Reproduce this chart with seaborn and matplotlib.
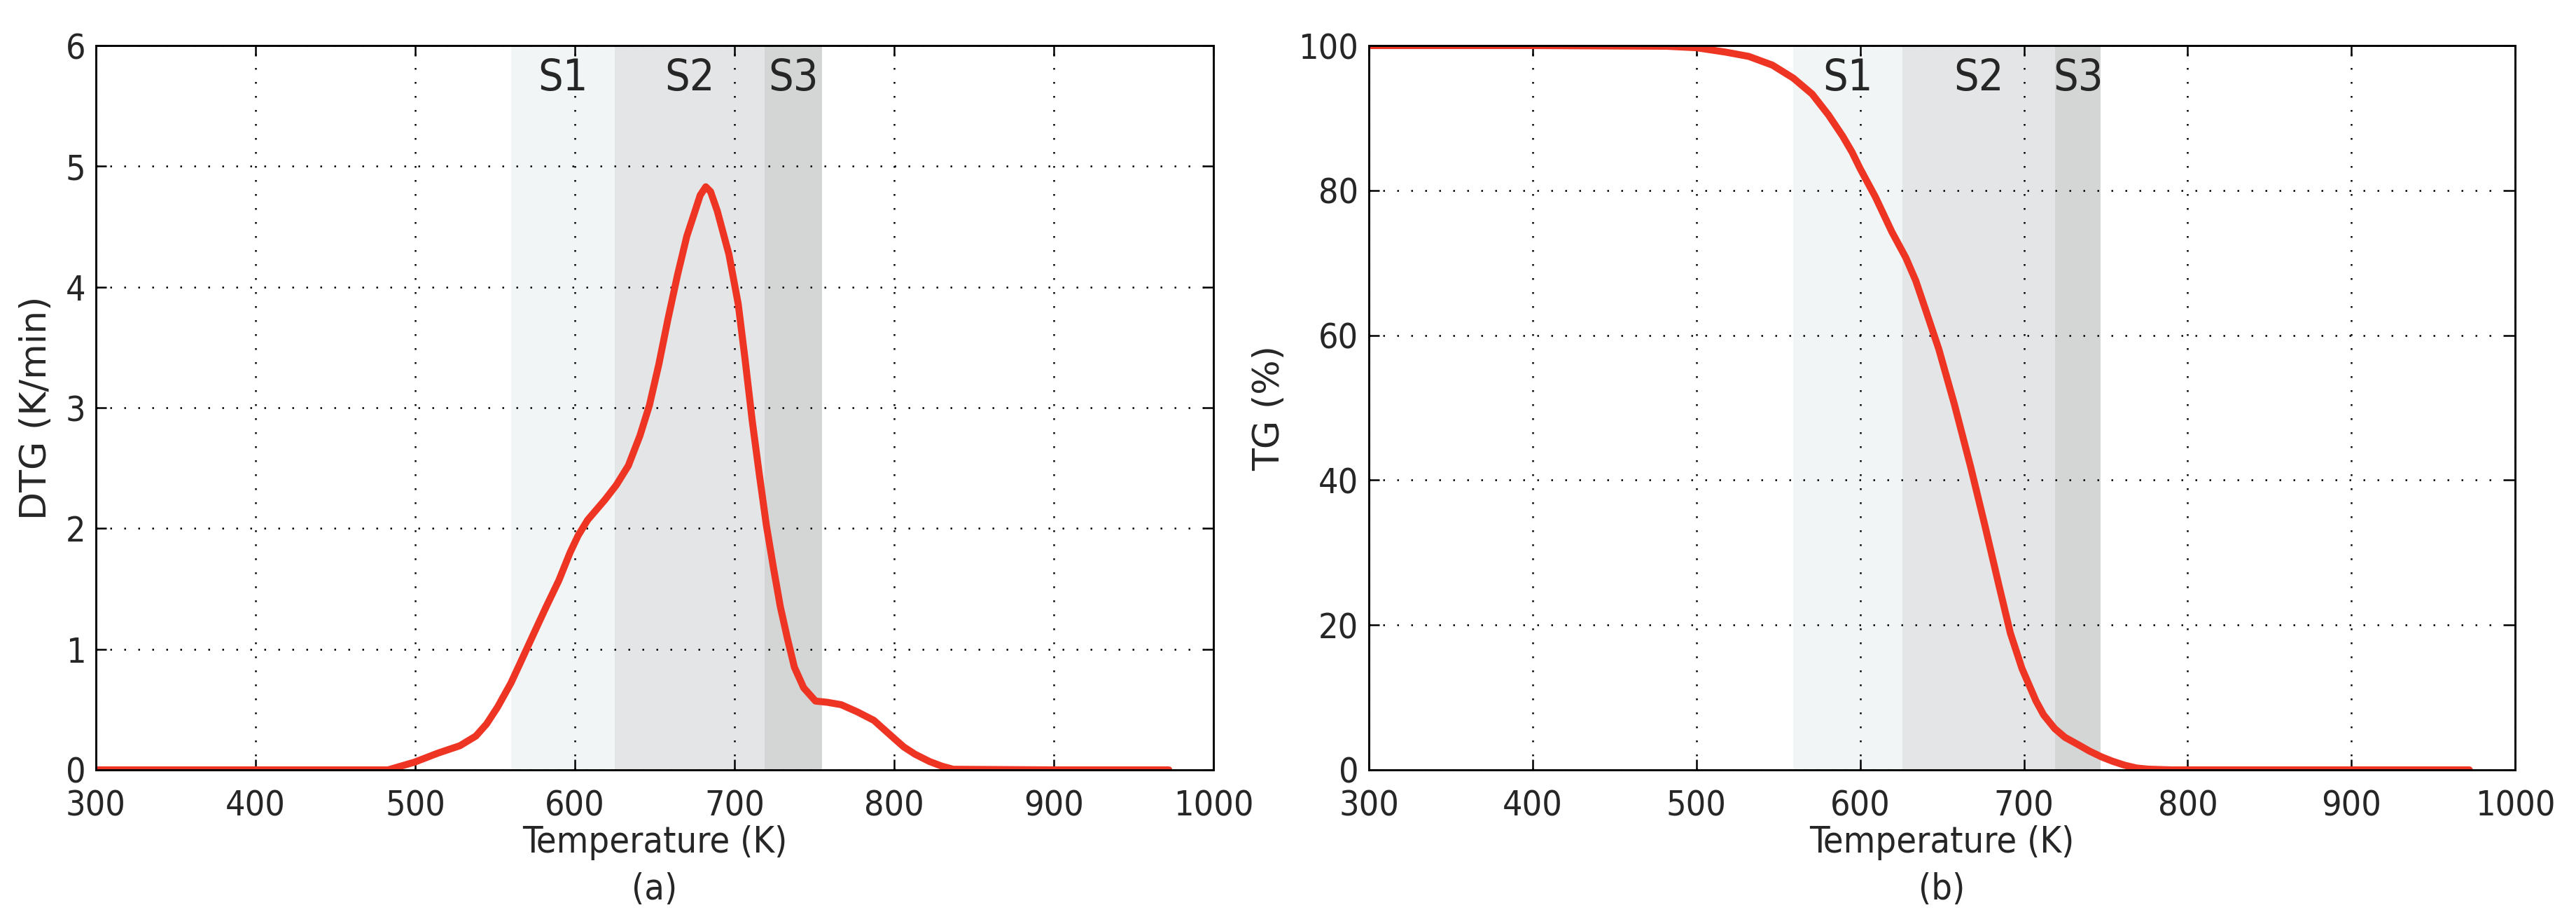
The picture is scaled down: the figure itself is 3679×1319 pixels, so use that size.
import pandas as pd
import seaborn as sns
import matplotlib
matplotlib.use("Agg")
import matplotlib.pyplot as plt
from matplotlib import font_manager

# DTG curve (K, K/min)
dtg_temp = [300, 400, 483, 499.6, 514.5, 528, 538, 544.7, 551.6, 560, 567, 575, 582, 590,
            597, 602, 608, 619, 626, 633.5, 640.8, 646.7, 652.6, 658.4, 664.3, 670.1, 675.3,
            678.5, 682, 685, 689.2, 696.5, 702.3, 706.7, 711.1, 715.5, 719.9, 724.3, 728.7,
            733.1, 737.5, 743.3, 750.7, 758, 766.8, 777, 787.3, 793.2, 800, 806, 813, 822,
            830, 837, 900, 972]
dtg_val = [0, 0, 0, 0.064, 0.14, 0.20, 0.28, 0.38, 0.52, 0.72, 0.92, 1.15, 1.35, 1.57,
           1.80, 1.94, 2.07, 2.24, 2.36, 2.52, 2.77, 3.02, 3.36, 3.74, 4.10, 4.42, 4.63,
           4.76, 4.83, 4.79, 4.63, 4.27, 3.86, 3.39, 2.89, 2.45, 2.03, 1.68, 1.35,
           1.09, 0.85, 0.68, 0.57, 0.56, 0.54, 0.48, 0.41, 0.34, 0.26, 0.19, 0.13, 0.07,
           0.03, 0.005, 0, 0]

# TG curve (K, %)
tg_temp = [300, 400, 482, 500, 517.7, 532, 546.4, 559.2, 570.7, 580.7, 589.3, 595, 600, 605,
           609.3, 619.3, 627.9, 634, 639.4, 648, 657.5, 667.5, 676, 684.6, 691.7, 698.8, 707.4,
           712, 718.8, 725, 733, 740, 747.3, 754, 761.6, 768.7, 775.8, 790, 900, 972]
tg_val = [100, 100, 99.9, 99.7, 99.1, 98.5, 97.3, 95.5, 93.3, 90.4, 87.5, 85.3, 83.0, 80.9,
          79.1, 74.3, 70.7, 67.5, 63.9, 58.1, 50.5, 41.8, 33.9, 25.6, 18.9, 14.0, 9.5,
          7.6, 5.7, 4.5, 3.5, 2.6, 1.8, 1.2, 0.64, 0.26, 0.1, 0, 0, 0]

# stage bands
stage_names = ["S1", "S2", "S3"]
stages_a = [(560, 625), (625, 719), (719, 755)]
stages_b = [(559, 626), (626, 719), (719, 747)]
stage_colors = ["#f2f5f5", "#e4e5e6", "#d4d5d5"]

sns.set_theme(style="white")

# look for a condensed sans face for the numbers and labels
narrow_file = None
for f in font_manager.fontManager.ttflist:
    nm = f.name.lower()
    st = str(f.stretch).lower()
    if ("condensed" in st or "condensed" in nm or "narrow" in nm) and "mono" not in nm \
            and "serif" not in nm.replace("sans", "") and f.style == "normal" \
            and f.weight in (400, "normal", "regular") and "semi" not in st \
            and "extra" not in st and "ultra" not in st:
        narrow_file = f.fname
        break

plt.rcParams["font.family"] = ["Liberation Sans", "DejaVu Sans"]
if narrow_file:
    fp_num = font_manager.FontProperties(fname=narrow_file, size=12)
    fp_lab = font_manager.FontProperties(fname=narrow_file, size=12.5)
    fp_stage = font_manager.FontProperties(fname=narrow_file, size=15)
else:
    fp_num = font_manager.FontProperties(family="Liberation Sans", size=11)
    fp_lab = font_manager.FontProperties(family="Liberation Sans", size=11.5)
    fp_stage = font_manager.FontProperties(family="Liberation Sans", size=13)

fig = plt.figure(figsize=(3679 / 300, 1319 / 300), dpi=300)
ax1 = fig.add_axes([0.0372, 0.1668, 0.4339, 0.7839])
ax2 = fig.add_axes([0.5314, 0.1668, 0.4450, 0.7839])

df_a = pd.DataFrame({"T": dtg_temp, "DTG": dtg_val})
df_b = pd.DataFrame({"T": tg_temp, "TG": tg_val})

panels = [
    (ax1, df_a, "DTG", stages_a, (0, 6), [0, 1, 2, 3, 4, 5, 6], "DTG (K/min)", "(a)"),
    (ax2, df_b, "TG", stages_b, (0, 100), [0, 20, 40, 60, 80, 100], "TG (%)", "(b)"),
]

for ax, df, col, stages, ylim, yticks, ylab, tag in panels:
    for (lo, hi), c in zip(stages, stage_colors):
        ax.axvspan(lo, hi, color=c, lw=0, zorder=0)
    sns.lineplot(data=df, x="T", y=col, ax=ax, color="#ee3524", lw=2.4, zorder=3)
    ax.set_xlim(300, 1000)
    ax.set_ylim(*ylim)
    ax.set_xticks(range(300, 1001, 100))
    ax.set_yticks(yticks)
    ax.grid(True, color="black", linestyle=(0, (1, 7)), linewidth=0.6)
    ax.set_axisbelow(False)
    for s in ax.spines.values():
        s.set_color("black")
        s.set_linewidth(0.7)
        s.set_zorder(5)
    ax.tick_params(which="both", direction="in", length=3.6, width=0.6, color="black",
                   top=True, right=True, bottom=True, left=True)
    ax.tick_params(axis="x", pad=6.5)
    ax.tick_params(axis="y", pad=3.5)
    for lab in ax.get_xticklabels() + ax.get_yticklabels():
        lab.set_fontproperties(fp_num)
    ax.set_xlabel("Temperature (K)", fontproperties=fp_lab, labelpad=1)
    ax.set_ylabel(ylab, fontsize=12.5, family="DejaVu Sans", labelpad=4)
    ax.text(0.5, -0.165, tag, transform=ax.transAxes, ha="center", va="center",
            fontproperties=fp_lab)
    for (lo, hi), name in zip(stages, stage_names):
        ax.text((lo + hi) / 2, ylim[1] * 0.955, name, ha="center", va="center",
                fontproperties=fp_stage, zorder=6)

fig.savefig("out.png", dpi=300, facecolor="white")
